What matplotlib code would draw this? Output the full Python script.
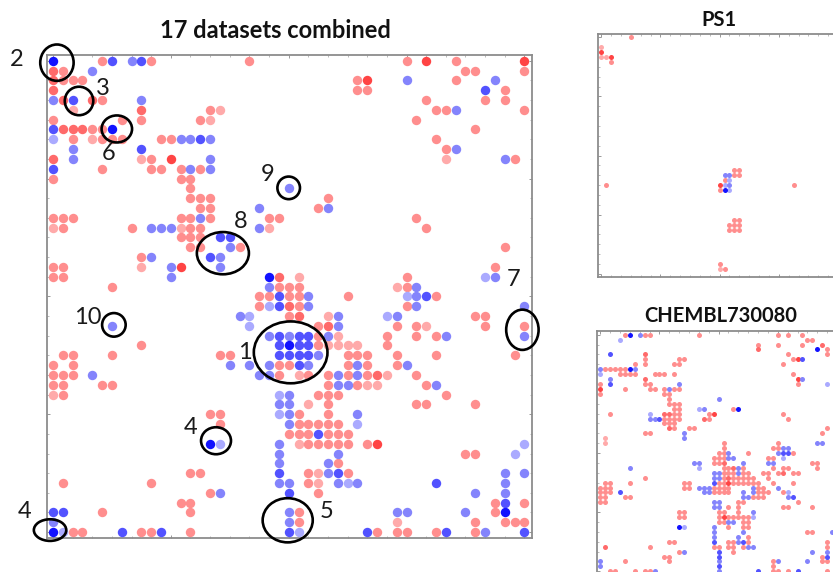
import matplotlib
matplotlib.use("Agg")
import matplotlib.pyplot as plt
from matplotlib.patches import Ellipse

plt.rcParams['font.family'] = ['Lato', 'DejaVu Sans']

W, H = 833, 572

COLORS = {'deep': '#1212ff', 'mid': '#5252ff', 'blue': '#8484fc', 'pale': '#aaaaff',
          'red': '#ff4444', 'strong': '#ff6a6a', 'pink': '#ff8e8e', 'light': '#ffaaaa'}

# {row: [columns]} for every shade
main_deep = {0: [0], 7: [6], 22: [22], 29: [24], 39: [16], 46: [46], 48: [0]}
main_mid = {0: [6, 9], 3: [44], 4: [2], 7: [0], 8: [15], 9: [9], 11: [0], 18: [17, 18], 20: [16],
            24: [23, 38], 25: [23], 28: [23, 25, 26], 29: [23, 25, 26], 30: [23, 24, 25, 26], 31: [25],
            38: [27], 42: [23, 29], 43: [39], 44: [24], 45: [46], 46: [0, 1], 48: [7, 11, 24, 32, 40, 48]}
main_blue = {0: [8], 1: [4], 2: [36, 45], 4: [0, 9], 5: [41], 8: [13, 14, 16], 9: [2, 41], 10: [2, 16, 46],
             11: [14, 16], 13: [24], 15: [21, 28], 16: [15], 17: [10, 11, 12, 21], 19: [18], 20: [10, 17],
             21: [12, 17], 22: [12, 45], 23: [22, 37], 24: [26, 37], 25: [26, 37, 48], 26: [19, 29, 35],
             27: [6, 29], 28: [22, 24, 28, 40, 48], 30: [27], 31: [18, 20, 22, 26, 31, 36],
             32: [4, 21, 22, 29, 31], 33: [29, 30, 39], 34: [24], 35: [23, 24], 36: [24, 31], 37: [24],
             39: [23], 40: [23, 29], 41: [23, 28], 42: [28, 46, 48], 43: [23, 24, 29, 31, 46],
             44: [17, 43, 46], 46: [24, 35, 36, 42], 47: [0, 24], 48: [44]}
main_pale = {8: [0], 22: [44], 24: [36], 25: [22], 26: [20, 34], 27: [20], 34: [23], 36: [23], 37: [31],
             39: [17, 48], 40: [47], 43: [30], 48: [1, 25]}
main_red = {0: [38, 48], 2: [32], 10: [12], 21: [13], 39: [33]}
main_strong = {1: [0], 2: [0], 3: [0], 4: [1, 4], 5: [9], 7: [1, 2, 3], 10: [0], 22: [23], 25: [24],
               26: [25], 27: [28], 32: [33]}
main_pink = {0: [5, 10, 20, 36, 41], 1: [1, 42, 43, 48], 2: [1, 2, 3, 31, 41], 3: [31, 32, 46],
             4: [5, 38, 44, 46], 5: [16, 39, 40, 48], 6: [0, 7, 9, 15, 37], 7: [4, 5, 43],
             8: [2, 5, 6, 7, 11, 12, 39], 9: [40], 10: [10, 47], 11: [5, 10, 11, 13, 15], 12: [0, 13, 14],
             13: [14], 14: [14, 15, 16, 28], 15: [15, 16, 27], 16: [0, 1, 2, 13, 14, 16, 22, 23, 37],
             17: [1, 8, 14, 15, 38], 18: [13, 14, 15], 19: [14, 15, 19, 46], 20: [9], 21: [0, 1, 45],
             22: [0, 1, 36], 23: [6, 23, 24, 25, 36], 24: [21, 22, 24, 25, 30, 39], 25: [21, 25, 36],
             26: [24, 43, 44], 27: [27, 35, 37, 44, 48], 28: [27, 34, 37, 39], 29: [9, 27, 34],
             30: [1, 2, 6, 17, 18, 30, 31, 32, 35, 39, 47], 31: [0, 2, 23, 24, 30, 32, 35],
             32: [0, 1, 2, 23, 26, 28, 30, 32, 37], 33: [0, 1, 5, 6, 28, 31, 38], 34: [1, 27, 28, 29, 40],
             35: [28, 37, 38, 43], 36: [16, 17, 25, 28], 37: [17, 25, 26, 27, 28, 29],
             38: [24, 25, 26, 28, 29, 30], 39: [26, 27, 28, 29, 30, 32], 40: [42, 43], 41: [29],
             42: [14, 15, 26, 30], 43: [1, 10, 26], 44: [16, 27], 45: [13, 14, 45, 48], 46: [5, 14, 25, 45],
             47: [25, 43, 46, 47, 48], 48: [2, 3, 9, 10, 14, 33, 35, 36, 39, 43]}
main_light = {5: [2, 17], 6: [16], 8: [4], 10: [9, 40], 17: [0, 13, 22], 21: [9], 22: [25], 23: [35],
              26: [28], 27: [38], 28: [29], 29: [28, 29, 30, 31], 32: [25, 34], 33: [32, 33], 34: [0],
              35: [26], 39: [25], 42: [27], 43: [27], 47: [35]}

ps1_deep = {31: [25]}
ps1_blue = {28: [25, 26], 30: [26]}
ps1_pale = {29: [26], 30: [25], 31: [26]}
ps1_red = {3: [0], 4: [2], 30: [24]}
ps1_pink = {0: [6], 5: [2], 27: [27, 28], 28: [27, 28], 29: [25], 30: [1, 39], 31: [24], 37: [27, 28],
            38: [26, 27, 28], 39: [26, 27, 28], 46: [24], 47: [25]}
ps1_light = {2: [0], 4: [0, 1], 47: [24]}

ch_deep = {0: [6], 3: [44], 7: [6], 15: [28], 39: [16]}
ch_mid = {4: [2], 5: [41], 10: [2], 17: [12], 24: [37, 38], 30: [23], 32: [4], 33: [39], 42: [23, 29],
          44: [24], 45: [24, 46], 47: [24], 48: [32, 40]}
ch_blue = {0: [8], 7: [0, 7], 9: [2, 41], 10: [16], 11: [14], 13: [24], 15: [21], 17: [10, 11], 20: [17],
           21: [17], 22: [44, 45], 23: [37, 38], 24: [26, 36], 25: [26, 27], 26: [19, 20, 29, 34, 35],
           27: [6, 28], 28: [23, 24, 28], 29: [23, 24], 31: [20, 21, 22, 31, 36], 32: [21, 22, 29, 31],
           33: [29, 30, 38], 34: [23, 24], 35: [23, 24], 36: [31], 38: [26, 27], 39: [23], 40: [23, 29, 47],
           41: [23, 28], 42: [28], 43: [30, 31], 44: [17, 43, 46], 46: [0, 24, 36, 42], 47: [0], 48: [11, 24]}
ch_pale = {1: [4], 8: [0], 10: [46], 15: [20], 16: [10], 25: [37], 27: [20], 32: [38], 37: [31], 39: [17]}
ch_red = {5: [40], 9: [40], 11: [0], 16: [23], 30: [26], 37: [25]}
ch_strong = {2: [45], 3: [32], 4: [9], 9: [9], 16: [13, 14], 17: [21], 19: [14], 26: [25], 27: [27],
             28: [37], 29: [26], 43: [1]}
ch_pink = {0: [5, 9, 10, 20, 36, 38, 41], 1: [42, 43], 2: [32, 36, 41], 3: [46], 4: [38, 46],
           5: [9, 16, 17, 39], 6: [7, 9, 15, 16, 37], 7: [1, 2, 3, 4, 5], 8: [4, 5, 6, 7, 11, 12, 13, 15, 39],
           10: [0, 9, 10, 40], 11: [5, 10, 11, 13, 15, 16], 12: [0, 13, 14], 13: [14], 14: [14, 15, 16],
           15: [15, 16, 27], 16: [2, 15, 16, 22, 37], 17: [13, 14, 15, 16, 22, 38], 18: [13, 14, 15],
           19: [15, 18, 19, 46], 20: [9, 10, 45], 22: [25, 36], 23: [25, 35, 36], 24: [24, 25, 30, 39],
           25: [23, 24, 25, 34, 35], 26: [23, 24, 43, 44], 27: [25, 26, 29, 35, 37, 38, 44],
           28: [25, 26, 27, 29, 30, 33, 34, 36, 39, 40], 29: [9, 25, 27, 28, 29, 30, 31, 34],
           30: [1, 2, 6, 17, 18, 24, 25, 27, 28, 29, 30, 31, 32, 35, 39],
           31: [0, 1, 2, 17, 18, 23, 24, 25, 26, 32, 33], 32: [0, 1, 2, 23, 24, 25, 26, 32, 33, 34, 37],
           33: [0, 1, 5, 6, 31, 32, 33], 34: [0, 1, 28, 29, 40], 35: [26, 28, 37, 38, 43],
           36: [16, 17, 24, 25, 28], 37: [16, 17, 24, 26, 27, 28, 29, 30], 38: [24, 25, 29, 30],
           39: [26, 29, 30], 40: [42, 43], 41: [30], 42: [14, 15, 26, 27, 30, 46],
           43: [10, 23, 24, 26, 27, 29, 46], 44: [16, 27], 45: [13, 14, 45], 46: [5, 14, 35, 45, 46], 47: [35],
           48: [2, 3, 7, 9, 10, 35, 36, 38, 46]}
ch_light = {21: [1], 22: [1]}

main_shades = {'light': main_light, 'pink': main_pink, 'strong': main_strong, 'red': main_red,
               'pale': main_pale, 'blue': main_blue, 'mid': main_mid, 'deep': main_deep}
ps1_shades = {'light': ps1_light, 'pink': ps1_pink, 'red': ps1_red, 'pale': ps1_pale,
              'blue': ps1_blue, 'deep': ps1_deep}
ch_shades = {'light': ch_light, 'pink': ch_pink, 'strong': ch_strong, 'red': ch_red, 'pale': ch_pale,
             'blue': ch_blue, 'mid': ch_mid, 'deep': ch_deep}

# (centre column, centre row, width, height) in grid units
rings = [(24.2, 29.7, 7.5, 6.3), (0.4, 0.2, 3.4, 3.7), (2.65, 4.1, 2.9, 2.9), (6.5, 6.95, 3.1, 2.75),
         (24.0, 12.95, 2.3, 2.3), (17.3, 19.6, 5.3, 4.3), (47.8, 27.4, 3.3, 4.1), (6.2, 26.9, 2.4, 2.4),
         (16.6, 38.7, 3.05, 2.75), (-0.3, 47.8, 3.3, 2.2), (23.9, 46.8, 5.1, 4.5)]
ring_labels = [('1', 19.55, 29.75), ('2', -3.67, -0.17), ('3', 5.1, 2.8), ('6', 5.7, 9.5), ('9', 21.9, 11.6),
               ('8', 19.1, 16.4), ('7', 46.9, 22.3), ('10', 3.5, 26.1), ('4', 14.05, 37.4), ('4', -2.85, 45.9),
               ('5', 27.9, 45.9)]


def make_axes(fig, left, top, right, bottom, x0, y0, step):
    ax = fig.add_axes([left / W, 1 - bottom / H, (right - left) / W, (bottom - top) / H])
    ax.set_xlim((left - x0) / step, (right - x0) / step)
    ax.set_ylim((bottom - y0) / step, (top - y0) / step)
    for s in ax.spines.values():
        s.set_color('#8c8c8c')
        s.set_linewidth(1.3)
    ax.set_xticks(range(0, 49, 12))
    ax.set_yticks(range(0, 49, 12))
    ax.set_xticks(range(0, 49, 2), minor=True)
    ax.set_yticks(range(0, 49, 2), minor=True)
    ax.tick_params(which='major', direction='in', length=2.2, width=0.6, color='#888888',
                   top=True, right=True, labelleft=False, labelbottom=False)
    ax.tick_params(which='minor', direction='in', length=1.1, width=0.5, color='#a0a0a0',
                   top=True, right=True)
    return ax


def draw(ax, shades, size):
    for shade, table in shades.items():
        xs = [c for r, cols in table.items() for c in cols]
        ys = [r for r, cols in table.items() for _ in cols]
        ax.scatter(xs, ys, s=size, color=COLORS[shade], linewidths=0, zorder=3, clip_on=False)


fig = plt.figure(figsize=(W / 100, H / 100), dpi=100)

ax_main = make_axes(fig, 46.5, 54.5, 532, 537.5, 53, 60.7, 9.82)
draw(ax_main, main_shades, 46)
for cx, cy, w, h in rings:
    ax_main.add_patch(Ellipse((cx, cy), w, h, fill=False, ec='black', lw=1.9, zorder=5, clip_on=False))
for txt, x, y in ring_labels:
    ax_main.text(x, y, txt, fontsize=17, color='#1a1a1a', ha='center', va='center', zorder=6)

ax_ps1 = make_axes(fig, 598, 34, 841, 277.3, 601.3, 37.3, 4.93)
draw(ax_ps1, ps1_shades, 13)

ax_ch = make_axes(fig, 596.7, 331.3, 840, 574.5, 600.3, 334.7, 4.93)
draw(ax_ch, ch_shades, 13)

fig.text(275 / W, 1 - 31 / H, '17 datasets combined', fontsize=17, fontweight='bold',
         ha='center', va='center', color='#111111')
fig.text(719 / W, 1 - 20 / H, 'PS1', fontsize=14.5, fontweight='bold', ha='center', va='center', color='#111111')
fig.text(721 / W, 1 - 316 / H, 'CHEMBL730080', fontsize=14.5, fontweight='bold', ha='center', va='center',
         color='#111111')

fig.savefig('out.png', dpi=100)
